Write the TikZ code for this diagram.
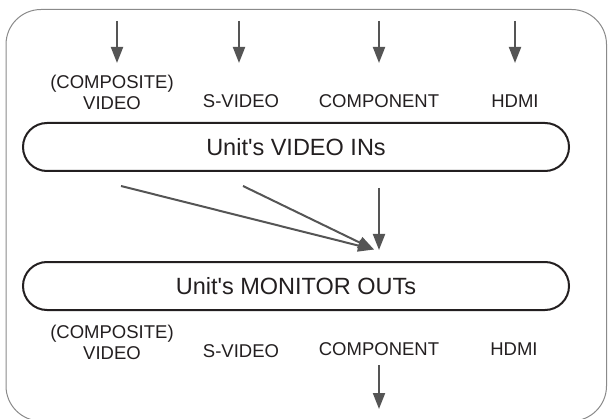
\documentclass[tikz,border=0pt]{standalone}
\usepackage{fontspec}
\setmainfont{Liberation Sans}
\usetikzlibrary{arrows.meta}
\definecolor{framegray}{HTML}{8A8A8A}
\definecolor{arrowgray}{HTML}{555555}
\definecolor{boxdark}{HTML}{231F20}
\tikzset{
  lbl/.style={inner sep=0pt, align=center, text=boxdark, font=\fontsize{18.5}{21.5}\selectfont},
  unitbox/.style={draw=boxdark, line width=2pt, rounded corners=24pt, minimum width=546pt, minimum height=48pt, inner sep=0pt, text=boxdark, font=\fontsize{23.5}{26}\selectfont},
  sig/.style={draw=arrowgray, line width=2pt, -{Triangle[length=16pt,width=12pt]}},
  frame/.style={draw=framegray, line width=1pt, rounded corners=35pt}
}
\begin{document}
\begin{tikzpicture}[x=1pt,y=-1pt]
\useasboundingbox (0,0) rectangle (609,419);
% outer frame
\draw[frame] (6,9.5) rectangle (606.5,421);
% top input labels
\node[lbl] (tcomp) at (112,92.5) {(COMPOSITE)\\VIDEO};
\node[lbl] (tsvid) at (241,100.7) {S-VIDEO};
\node[lbl] (tcomy) at (379,100.7) {COMPONENT};
\node[lbl] (thdmi) at (515,100.7) {HDMI};
% top arrows
\coordinate (a1s) at (117,21); \coordinate (a1e) at (117,63);
\coordinate (a2s) at (239,21); \coordinate (a2e) at (239,63);
\coordinate (a3s) at (379,21); \coordinate (a3e) at (379,63);
\coordinate (a4s) at (515,21); \coordinate (a4e) at (515,63);
\draw[sig] (a1s) -- (a1e);
\draw[sig] (a2s) -- (a2e);
\draw[sig] (a3s) -- (a3e);
\draw[sig] (a4s) -- (a4e);
% boxes
\node[unitbox] (vin) at (296,147) {Unit\textquotesingle s VIDEO INs};
\node[unitbox] (mon) at (296,286) {Unit\textquotesingle s MONITOR OUTs};
% routing arrows
\coordinate (d1s) at (121,186);
\coordinate (d2s) at (243,186);
\coordinate (d3s) at (379,188);
\coordinate (dtip) at (374,249.5);
\coordinate (vtip) at (379,250);
\draw[sig] (d1s) -- (dtip);
\draw[sig] (d2s) -- (dtip);
\draw[sig] (d3s) -- (vtip);
% bottom output labels
\node[lbl] (bcomp) at (112,342.5) {(COMPOSITE)\\VIDEO};
\node[lbl] (bsvid) at (241,351) {S-VIDEO};
\node[lbl] (bcomy) at (379,349.5) {COMPONENT};
\node[lbl] (bhdmi) at (514,349.5) {HDMI};
% bottom arrow
\coordinate (bos) at (379,365);
\coordinate (boe) at (379,409);
\draw[sig] (bos) -- (boe);
\end{tikzpicture}
\end{document}
